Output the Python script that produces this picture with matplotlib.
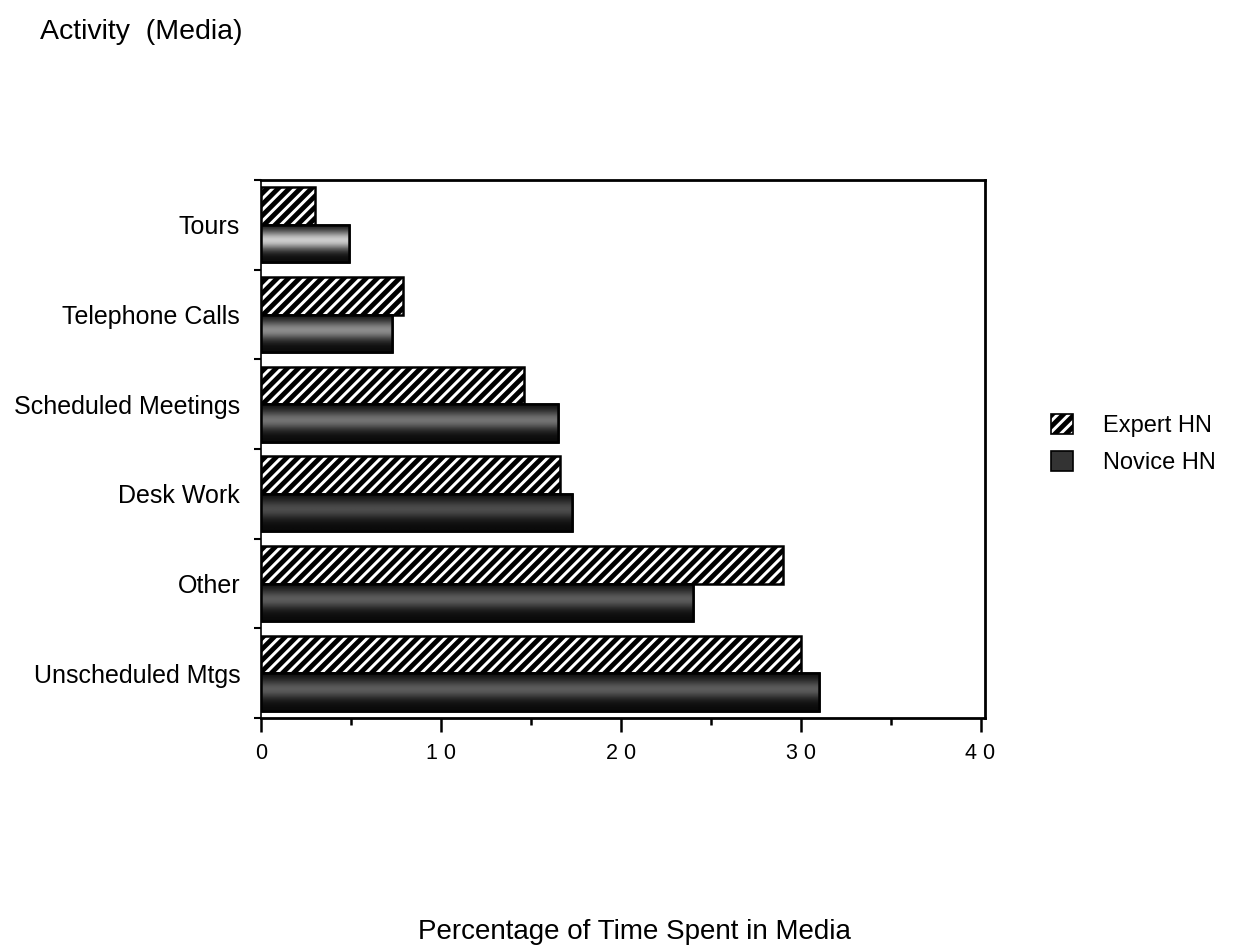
import numpy as np
import matplotlib
matplotlib.use("Agg")
import matplotlib.pyplot as plt
from matplotlib.patches import Rectangle, Patch

plt.rcParams['font.family'] = ['Liberation Sans', 'DejaVu Sans']
plt.rcParams['hatch.linewidth'] = 3.5

categories = ["Unscheduled Mtgs", "Other", "Desk Work", "Scheduled Meetings",
              "Telephone Calls", "Tours"]
expert = [30.0, 29.0, 16.6, 14.6, 7.9, 3.0]
novice = [31.0, 24.0, 17.3, 16.5, 7.3, 4.9]
series_names = ["Expert HN", "Novice HN"]
xticks = [0, 10, 20, 30, 40]
xtick_labels = ["0", "1 0", "2 0", "3 0", "4 0"]
# peak lightness of the shaded (novice) bars, bottom to top
novice_light = [0.36, 0.36, 0.30, 0.45, 0.55, 0.80]

fig = plt.figure(figsize=(12.33, 9.48), dpi=100)
ax = fig.add_axes([261/1233, 1-718/948, (985-261)/1233, (718-180)/948])

h = 0.42
y = np.arange(len(categories))
ax.barh(y + h/2, expert, height=h, facecolor='white', edgecolor='black',
        hatch='///', linewidth=1.8, zorder=3)
nb = ax.barh(y - h/2, novice, height=h, facecolor='#202020', edgecolor='black',
             linewidth=1.8, zorder=3)

# vertical shading inside the novice bars
t = np.linspace(0, 1, 64)
prof = np.exp(-((t - 0.58) / 0.26) ** 2)
for rect, L in zip(nb, novice_light):
    x0, y0 = rect.get_x(), rect.get_y()
    w, hh = rect.get_width(), rect.get_height()
    vals = 0.04 + (L - 0.04) * prof
    img = np.repeat(vals[:, None], 8, axis=1)
    im = ax.imshow(img, extent=(x0, x0 + w, y0, y0 + hh), cmap='gray',
                   vmin=0, vmax=1, aspect='auto', origin='lower', zorder=3.5,
                   interpolation='bilinear')
    clip = Rectangle((x0, y0), w, hh, transform=ax.transData)
    im.set_clip_path(clip)
    ax.add_patch(Rectangle((x0, y0), w, hh, fill=False, edgecolor='black',
                           linewidth=1.8, zorder=4))

ax.set_xlim(0, 40.25)
ax.set_ylim(-0.5, len(categories) - 0.5)

ax.set_yticks(y)
ax.set_yticklabels(categories, fontsize=18)
ax.set_yticks(np.arange(-0.5, len(categories), 1.0), minor=True)
ax.tick_params(axis='y', which='major', length=0, pad=15)
ax.tick_params(axis='y', which='minor', length=5, width=1.5, direction='out')

ax.set_xticks(xticks)
ax.set_xticklabels(xtick_labels, fontsize=15.5)
ax.set_xticks([5, 15, 25, 35], minor=True)
ax.tick_params(axis='x', which='major', length=10, width=1.8, pad=8)
ax.tick_params(axis='x', which='minor', length=5, width=1.8)

for s in ax.spines.values():
    s.set_linewidth(2)
ax.spines['left'].set_linewidth(1.2)

fig.text(40/1233, 1-32/948, "Activity  (Media)", fontsize=20.5, va='center', ha='left')
fig.text(634/1233, 1-932/948, "Percentage of Time Spent in Media", fontsize=20,
         va='center', ha='center')

handles = [Patch(facecolor='white', edgecolor='black', hatch='///', linewidth=1.2),
           Patch(facecolor='#333333', edgecolor='black', linewidth=1.2)]
fig.legend(handles, series_names, loc='center left',
           bbox_to_anchor=(1030/1233, 1-444/948), frameon=False, fontsize=17,
           handlelength=0.9, handleheight=0.9, handletextpad=1.3, labelspacing=0.6)

fig.savefig("out.png", dpi=100)
